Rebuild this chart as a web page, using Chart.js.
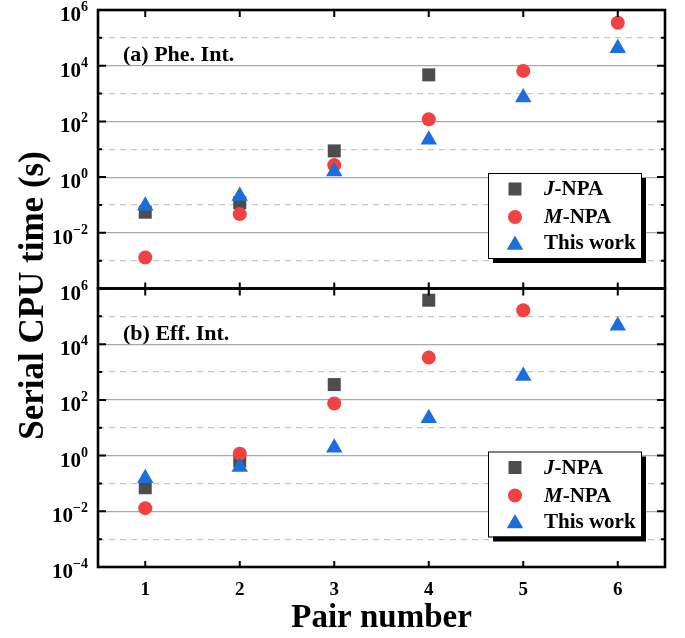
<!DOCTYPE html>
<html>
<head>
<meta charset="utf-8">
<script src="https://cdn.jsdelivr.net/npm/chart.js@4"></script>
<style>
  body { margin: 0; background: #fff; }
  #wrap { position: relative; width: 685px; height: 638px; }
</style>
</head>
<body>
<div id="wrap"><canvas id="cpuChart"></canvas></div>
<script>
// --- DATOS ---
const pairs = [1, 2, 3, 4, 5, 6];
const decades = [-4, -3, -2, -1, 0, 1, 2, 3, 4, 5, 6];

// (a) Phe. Int.
const pheJNPA = [0.055, 0.12, 8.7, 4700, null, null];
const pheMNPA = [0.0013, 0.047, 2.7, 120, 6500, 350000];
const pheThis = [0.093, 0.21, 1.6, 22, 720, 42000];

// (b) Eff. Int.
const effJNPA = [0.07, 0.66, 355, 380000, null, null];
const effMNPA = [0.013, 1.17, 74, 3300, 165000, null];
const effThis = [0.155, 0.39, 1.9, 22, 720, 46000];

const panelLabels = ['(a) Phe. Int.', '(b) Eff. Int.'];
const seriesNames = [['J', '-NPA'], ['M', '-NPA'], ['', 'This work']];

const FONT = '"Liberation Serif", "Times New Roman", serif';
const GRAY = '#4d4d4d';
const RED = '#ef4242';
const BLUE = '#1b6fdc';

const styles = [
  { pointStyle: 'rect', radius: 9.2, color: GRAY, order: 3 },
  { pointStyle: 'circle', radius: 7, color: RED, order: 2 },
  { pointStyle: 'triangle', radius: 9.5, color: BLUE, order: 1 }
];

function toPoints(values) {
  return pairs.map((p, i) => ({ x: p, y: values[i] })).filter(d => d.y !== null);
}

function makeDataset(values, s, axis) {
  return {
    data: toPoints(values),
    yAxisID: axis,
    pointStyle: s.pointStyle,
    pointRadius: s.radius,
    pointHoverRadius: s.radius,
    backgroundColor: s.color,
    borderColor: s.color,
    borderWidth: 0,
    showLine: false,
    order: s.order,
    clip: false
  };
}

// --- EJES Y ---
function decadeTicks(scale) {
  scale.ticks = decades.map(e => ({ value: Math.pow(10, e) }));
}
function isOdd(ctx) {
  if (!ctx.tick) return false;
  const e = Math.round(Math.log10(ctx.tick.value));
  return Math.abs(e) % 2 === 1;
}
function yScale() {
  return {
    type: 'logarithmic',
    position: 'left',
    stack: 'panels',
    stackWeight: 1,
    min: 1e-4,
    max: 1e6,
    afterBuildTicks: decadeTicks,
    afterFit: s => { s.width = 98; },
    ticks: { display: false },
    grid: {
      drawTicks: false,
      color: ctx => isOdd(ctx) ? '#c8c8c8' : '#a8a8a8',
      lineWidth: 1.2
    },
    border: {
      display: false,
      dash: ctx => isOdd(ctx) ? [6, 5] : []
    }
  };
}

// --- DIBUJO EXTRA: marco, ticks, etiquetas, leyendas ---
function drawLegend(ctx, left, top) {
  const w = 153, h = 85;
  ctx.fillStyle = '#000';
  ctx.fillRect(left + 5, top + 5, w, h);
  ctx.fillStyle = '#fff';
  ctx.fillRect(left, top, w, h);
  ctx.strokeStyle = '#000';
  ctx.lineWidth = 1;
  ctx.strokeRect(left + 0.5, top + 0.5, w, h);

  const rows = [16, 44, 70];
  styles.forEach((s, i) => {
    const cy = top + rows[i];
    ctx.fillStyle = s.color;
    Chart.helpers.drawPoint(ctx, { pointStyle: s.pointStyle, radius: s.radius, rotation: 0, borderWidth: 0 }, left + 27, cy + (s.pointStyle === 'triangle' ? 2 : 0));
    ctx.fillStyle = '#000';
    ctx.textBaseline = 'middle';
    ctx.textAlign = 'left';
    let tx = left + 56;
    const [it, rest] = seriesNames[i];
    if (it) {
      ctx.font = `italic bold 21px ${FONT}`;
      ctx.fillText(it, tx, cy + 1);
      tx += ctx.measureText(it).width;
    }
    ctx.font = `bold 21px ${FONT}`;
    ctx.fillText(rest, tx, cy + 1);
  });
}

const extrasPlugin = {
  id: 'extras',
  afterDraw(chart) {
    const ctx = chart.ctx;
    const x = chart.scales.x;
    const panels = [chart.scales.yA, chart.scales.yB];
    ctx.save();

    panels.forEach((y, k) => {
      // ticks (todos hacia adentro)
      ctx.strokeStyle = '#000';
      ctx.lineWidth = 2;
      ctx.beginPath();
      decades.forEach(e => {
        const py = y.getPixelForValue(Math.pow(10, e));
        const len = e % 2 === 0 ? 8 : 4;
        ctx.moveTo(x.left, py); ctx.lineTo(x.left + len, py);
        ctx.moveTo(x.right, py); ctx.lineTo(x.right - len, py);
      });
      pairs.forEach(p => {
        const px = x.getPixelForValue(p);
        ctx.moveTo(px, y.top); ctx.lineTo(px, y.top + 7);
        ctx.moveTo(px, y.bottom); ctx.lineTo(px, y.bottom - 6);
      });
      ctx.stroke();

      // marco
      ctx.lineWidth = 2.6;
      ctx.strokeRect(x.left, y.top, x.right - x.left, y.bottom - y.top);

      // etiquetas del eje y (10^n)
      ctx.fillStyle = '#000';
      ctx.textBaseline = 'alphabetic';
      decades.forEach(e => {
        if (e % 2 !== 0) return;
        if (k === 0 && e === -4) return;
        const py = y.getPixelForValue(Math.pow(10, e));
        const exp = e < 0 ? '\u2212' + Math.abs(e) : String(e);
        ctx.font = `bold 14px ${FONT}`;
        ctx.textAlign = 'right';
        const ew = ctx.measureText(exp).width;
        const right = x.left - 10;
        ctx.fillText(exp, right, py + 1);
        ctx.font = `bold 21px ${FONT}`;
        ctx.fillText('10', right - ew, py + 11);
      });

      // etiqueta del panel
      ctx.font = `bold 22px ${FONT}`;
      ctx.textAlign = 'left';
      ctx.fillText(panelLabels[k], 123, y.top + 51);

      // leyenda
      drawLegend(ctx, 488, y.top + 163);
    });

    // titulo eje y
    ctx.fillStyle = '#000';
    ctx.font = `bold 35px ${FONT}`;
    ctx.textAlign = 'center';
    ctx.textBaseline = 'middle';
    ctx.translate(34, (panels[0].top + panels[1].bottom) / 2 + 7);
    ctx.rotate(-Math.PI / 2);
    ctx.fillText('Serial CPU time (s)', 0, 0);
    ctx.restore();
  }
};

const chart = new Chart(document.getElementById('cpuChart'), {
  type: 'scatter',
  data: {
    datasets: [
      makeDataset(pheJNPA, styles[0], 'yA'),
      makeDataset(pheMNPA, styles[1], 'yA'),
      makeDataset(pheThis, styles[2], 'yA'),
      makeDataset(effJNPA, styles[0], 'yB'),
      makeDataset(effMNPA, styles[1], 'yB'),
      makeDataset(effThis, styles[2], 'yB')
    ]
  },
  options: {
    responsive: true,
    maintainAspectRatio: false,
    animation: false,
    layout: { padding: { left: 0, right: 20, top: 10, bottom: 0 } },
    plugins: {
      legend: { display: false },
      tooltip: { enabled: false }
    },
    scales: {
      x: {
        type: 'linear',
        min: 0.5,
        max: 6.5,
        afterBuildTicks: s => { s.ticks = pairs.map(v => ({ value: v })); },
        afterFit: s => { s.height = 71; },
        grid: { display: false, drawTicks: false },
        border: { display: false },
        ticks: {
          color: '#000',
          padding: 12,
          font: { family: FONT, size: 19, weight: 'bold' }
        },
        title: {
          display: true,
          text: 'Pair number',
          color: '#000',
          padding: { top: 0, bottom: 0 },
          font: { family: FONT, size: 33, weight: 'bold' }
        }
      },
      // el panel inferior se declara primero: el apilado lo coloca abajo
      yB: yScale(),
      yA: yScale()
    }
  },
  plugins: [extrasPlugin]
});
</script>
</body>
</html>
